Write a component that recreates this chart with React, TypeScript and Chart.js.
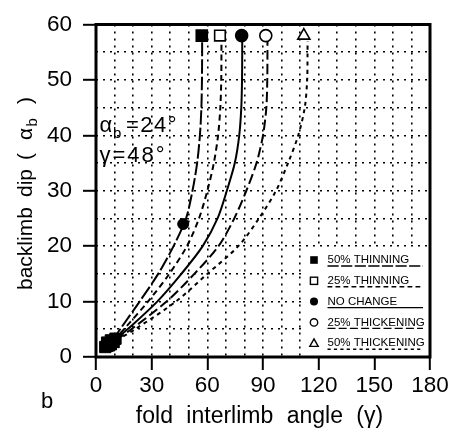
import React, { useEffect, useRef } from 'react';
import { Chart, registerables } from 'chart.js';

Chart.register(...registerables);

const FONT = '"Liberation Sans", Arial, Helvetica, sans-serif';

// backlimb dip levels (y) at which each curve's interlimb angle (x) was read
const dipLevels = [3, 5, 10, 15, 20, 25, 30, 35, 40, 45, 50, 55, 57];
const thinning50 = [9, 13, 23.5, 33.5, 41.8, 48.5, 52, 54.5, 56, 56.8, 57.1, 57.2, 57.2];
const thinning25 = [9.5, 15, 28, 39.5, 49, 55.5, 60, 63.5, 65.8, 67, 67.5, 67.6, 67.6];
const noChange = [10, 17, 33, 46, 57.5, 65.5, 70.5, 74.8, 77.2, 78.3, 78.7, 78.8, 78.8];
const thickening25 = [10.5, 19, 38, 53, 66, 74.5, 81, 86.5, 90, 91.8, 92.3, 92.4, 92.4];
const thickening50 = [11, 21, 43, 60, 76.7, 87.8, 97, 103.5, 109, 112.5, 113.8, 114, 114];

// end markers at the top of each curve
const topMarkerX = [57, 66.8, 78.5, 91.5, 112];
const topMarkerY = [58, 58, 58, 58, 58];

// cluster of markers at the origin end of the curves
const baseX = [5, 6, 7, 8, 9.5, 6, 8, 10.5];
const baseY = [1.8, 2.0, 2.1, 2.3, 2.7, 2.6, 3.0, 3.3];

// worked example point (alpha_b = 24, gamma = 48)
const exampleX = [47];
const exampleY = [24];

const seriesNames = ['50% THINNING', '25% THINNING', 'NO CHANGE', '25% THICKENING', '50% THICKENING'];
const xTickLabels = [0, 30, 60, 90, 120, 150, 180];
const yTickLabels = [0, 10, 20, 30, 40, 50, 60];

const curves = [thinning50, thinning25, noChange, thickening25, thickening50];
const dashes: number[][] = [[14, 3], [6, 4], [], [10, 4], [4, 4]];
const markerStyles = [
  { style: 'rect', fill: true, r: 7.8 },
  { style: 'rect', fill: false, r: 7.5 },
  { style: 'circle', fill: true, r: 6 },
  { style: 'circle', fill: false, r: 6 },
  { style: 'triangle', fill: false, r: 7 },
];

function drawLegendMarker(ctx: CanvasRenderingContext2D, i: number, x: number, y: number) {
  ctx.save();
  ctx.fillStyle = '#000';
  ctx.strokeStyle = '#000';
  ctx.lineWidth = 1.4;
  ctx.setLineDash([]);
  if (i === 0) {
    ctx.fillRect(x - 3.8, y - 3.8, 7.6, 7.6);
  } else if (i === 1) {
    ctx.strokeRect(x - 3.6, y - 3.6, 7.2, 7.2);
  } else if (i === 2) {
    ctx.beginPath();
    ctx.arc(x, y, 4, 0, Math.PI * 2);
    ctx.fill();
  } else if (i === 3) {
    ctx.beginPath();
    ctx.arc(x, y, 3.7, 0, Math.PI * 2);
    ctx.stroke();
  } else {
    ctx.beginPath();
    ctx.moveTo(x, y - 4.3);
    ctx.lineTo(x + 4.2, y + 3.2);
    ctx.lineTo(x - 4.2, y + 3.2);
    ctx.closePath();
    ctx.stroke();
  }
  ctx.restore();
}

const decorPlugin = {
  id: 'decor',
  beforeDraw(chart: any) {
    const ctx = chart.ctx as CanvasRenderingContext2D;
    ctx.save();
    ctx.fillStyle = '#fff';
    ctx.fillRect(0, 0, chart.width, chart.height);
    ctx.restore();
  },
  afterDatasetsDraw(chart: any) {
    const ctx = chart.ctx as CanvasRenderingContext2D;
    const { left, right, top, bottom } = chart.chartArea;
    ctx.save();

    // legend box
    ctx.fillStyle = '#fff';
    ctx.fillRect(306, 248, right - 306, bottom - 248);
    ctx.fillStyle = '#000';
    ctx.strokeStyle = '#000';
    ctx.font = `11.5px ${FONT}`;
    ctx.textBaseline = 'middle';
    ctx.textAlign = 'left';
    for (let i = 0; i < seriesNames.length; i++) {
      const y = 260 + i * 20.8;
      drawLegendMarker(ctx, i, 314, y);
      ctx.fillText(seriesNames[i], 327.5, y);
      ctx.beginPath();
      ctx.lineWidth = 1.4;
      ctx.setLineDash(dashes[i].map((d) => d * 0.8));
      ctx.moveTo(327.5, y + 6);
      ctx.lineTo(423, y + 6);
      ctx.stroke();
    }
    ctx.setLineDash([]);

    // frame
    ctx.lineWidth = 3;
    ctx.strokeRect(left, top, right - left, bottom - top);

    // annotations
    ctx.textBaseline = 'alphabetic';
    ctx.font = `22px ${FONT}`;
    ctx.fillText('α', 99.5, 132);
    ctx.font = `15px ${FONT}`;
    ctx.fillText('b', 113, 138);
    ctx.font = `22px ${FONT}`;
    (ctx as any).letterSpacing = '1.5px';
    ctx.fillText('=24°', 126, 132);
    (ctx as any).letterSpacing = '2px';
    ctx.fillText('γ=48°', 99.5, 161.5);
    (ctx as any).letterSpacing = '0px';

    // x title
    ctx.font = `23px ${FONT}`;
    (ctx as any).wordSpacing = '7px';
    ctx.textAlign = 'center';
    ctx.fillText('fold interlimb angle (γ)', 259.5, 423);
    (ctx as any).wordSpacing = '0px';

    // panel letter
    ctx.textAlign = 'left';
    ctx.font = `22px ${FONT}`;
    ctx.fillText('b', 41, 408);

    // y title (rotated, with subscript), pieces placed along the axis
    ctx.save();
    ctx.translate(31.5, 290);
    ctx.rotate(-Math.PI / 2);
    ctx.textAlign = 'left';
    ctx.font = `21px ${FONT}`;
    ctx.fillText('backlimb', 0, 0);
    ctx.fillText('dip', 93, 0);
    ctx.fillText('(', 130, 0);
    ctx.fillText('α', 150, 0);
    ctx.font = `15px ${FONT}`;
    ctx.fillText('b', 163.5, 5.5);
    ctx.font = `21px ${FONT}`;
    ctx.fillText(')', 186, 0);
    ctx.restore();

    ctx.restore();
  },
};

export default function App() {
  const ref = useRef<HTMLCanvasElement | null>(null);

  useEffect(() => {
    document.body.style.margin = '0';
    const canvas = ref.current;
    if (!canvas) return;

    const lineSets = curves.map((xs, i) => ({
      type: 'scatter' as const,
      label: seriesNames[i],
      data: xs.map((x, j) => ({ x, y: dipLevels[j] })),
      showLine: true,
      borderColor: '#000',
      borderWidth: 2,
      borderDash: dashes[i],
      pointRadius: 0,
      tension: 0.3,
      order: 2,
    }));

    const markerSets = markerStyles.map((m, i) => ({
      type: 'scatter' as const,
      label: seriesNames[i] + ' marker',
      data: [{ x: topMarkerX[i], y: topMarkerY[i] }],
      pointStyle: m.style,
      pointRadius: m.r,
      backgroundColor: m.fill ? '#000' : '#fff',
      borderColor: '#000',
      borderWidth: 1.6,
      order: 0,
    }));

    const baseSet = {
      type: 'scatter' as const,
      label: 'base',
      data: baseX.map((x, j) => ({ x, y: baseY[j] })),
      pointStyle: 'rect',
      pointRadius: 8,
      backgroundColor: '#000',
      borderColor: '#000',
      borderWidth: 1,
      order: 0,
    };

    const exampleSet = {
      type: 'scatter' as const,
      label: 'example',
      data: exampleX.map((x, j) => ({ x, y: exampleY[j] })),
      pointStyle: 'circle',
      pointRadius: 5.5,
      backgroundColor: '#000',
      borderColor: '#000',
      borderWidth: 1,
      order: 0,
    };

    const gridCommon = (labels: number[], min: number, max: number) => ({
      color: (c: any) => {
        const v = c.tick ? c.tick.value : NaN;
        return v === min || v === max ? 'rgba(0,0,0,0)' : '#000';
      },
      lineWidth: 1.6,
      tickLength: 13,
      tickWidth: 2,
      tickColor: (c: any) => (c.tick && labels.includes(c.tick.value) ? '#000' : 'rgba(0,0,0,0)'),
      tickBorderDash: [],
    });

    const chart = new Chart(canvas, {
      type: 'scatter',
      data: { datasets: [...markerSets, baseSet, exampleSet, ...lineSets] as any },
      options: {
        responsive: false,
        animation: false,
        devicePixelRatio: 1,
        layout: { padding: { left: 0, right: 25, top: 15, bottom: 0 } },
        plugins: { legend: { display: false }, tooltip: { enabled: false } },
        scales: {
          x: {
            type: 'linear',
            min: 0,
            max: 180,
            afterFit: (s: any) => {
              s.height = 75;
            },
            ticks: {
              stepSize: 10,
              autoSkip: false,
              maxRotation: 0,
              padding: 2.5,
              color: '#000',
              font: { family: FONT, size: 22.5 },
              callback: (v: any) => (xTickLabels.includes(Number(v)) ? String(v) : ''),
            },
            grid: gridCommon(xTickLabels, 0, 180) as any,
            border: { display: false, dash: [2, 5] },
          },
          y: {
            type: 'linear',
            min: 0,
            max: 60,
            afterFit: (s: any) => {
              s.width = 96;
            },
            ticks: {
              stepSize: 5,
              autoSkip: false,
              padding: 11,
              color: '#000',
              font: { family: FONT, size: 22.5 },
              callback: (v: any) => (yTickLabels.includes(Number(v)) ? String(v) : ''),
            },
            grid: gridCommon(yTickLabels, 0, 60) as any,
            border: { display: false, dash: [2, 5] },
          },
        },
      },
      plugins: [decorPlugin],
    });

    return () => {
      chart.destroy();
    };
  }, []);

  return (
    <div style={{ width: 455, height: 432 }}>
      <canvas ref={ref} width={455} height={432} style={{ display: 'block' }} />
    </div>
  );
}
